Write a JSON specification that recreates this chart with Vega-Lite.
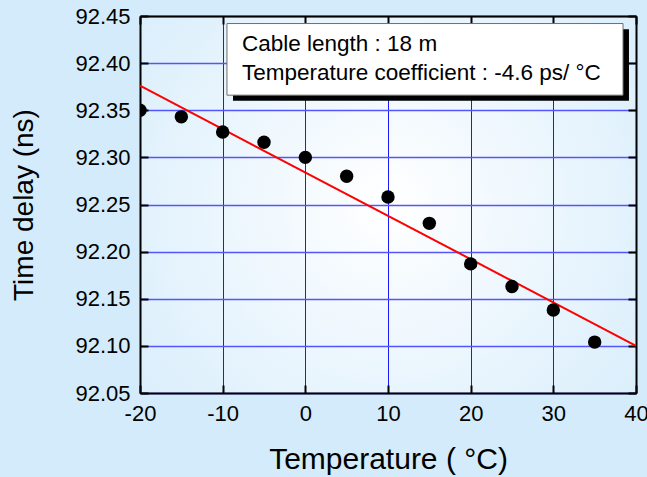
{
  "$schema": "https://vega.github.io/schema/vega-lite/v6.json",
  "width": 496,
  "height": 377,
  "autosize": {"type": "none"},
  "padding": {"left": 140, "top": 16, "right": 11, "bottom": 84},
  "background": "#d3ebfb",
  "view": {
    "stroke": null,
    "fill": {"gradient": "radial", "x1": 0.5, "y1": 0.5, "r1": 0, "x2": 0.5, "y2": 0.5, "r2": 0.75,
      "stops": [{"offset": 0, "color": "#ffffff"}, {"offset": 1, "color": "#d3ebfb"}]}
  },
  "config": {
    "font": "Liberation Sans",
    "axis": {
      "domainColor": "#000000", "domainWidth": 2,
      "tickColor": "#000000", "tickWidth": 2, "tickSize": -8,
      "labelFont": "Liberation Sans", "labelFontSize": 22, "labelColor": "#000000",
      "titleFont": "Liberation Sans", "titleFontWeight": "normal", "titleColor": "#000000"
    }
  },
  "datasets": {
    "points": [
      {"temperature": -20, "delay": 92.350},
      {"temperature": -15, "delay": 92.343},
      {"temperature": -10, "delay": 92.327},
      {"temperature": -5, "delay": 92.316},
      {"temperature": 0, "delay": 92.300},
      {"temperature": 5, "delay": 92.280},
      {"temperature": 10, "delay": 92.258},
      {"temperature": 15, "delay": 92.230},
      {"temperature": 20, "delay": 92.187},
      {"temperature": 25, "delay": 92.163},
      {"temperature": 30, "delay": 92.138},
      {"temperature": 35, "delay": 92.104}
    ],
    "fit": [
      {"temperature": -20, "delay": 92.376},
      {"temperature": 40, "delay": 92.100}
    ],
    "note": [
      {"line": "Cable length : 18 m", "row": 1},
      {"line": "Temperature coefficient : -4.6 ps/ °C", "row": 2}
    ]
  },
  "resolve": {"axis": {"x": "independent", "y": "independent"}},
  "layer": [
    {
      "data": {"name": "fit"},
      "mark": {"type": "line", "color": "#ff0000", "strokeWidth": 2, "clip": true},
      "encoding": {
        "x": {"field": "temperature", "type": "quantitative",
          "scale": {"domain": [-20, 40], "nice": false, "zero": false},
          "axis": {"orient": "bottom", "values": [-20, -10, 0, 10, 20, 30, 40],
            "labelExpr": "'' + datum.value",
            "grid": true, "gridColor": "#1a1aff", "gridWidth": 1,
            "labelPadding": 18, "labelFlush": false,
            "title": "Temperature ( °C)", "titleFontSize": 30, "titlePadding": 20}},
        "y": {"field": "delay", "type": "quantitative",
          "scale": {"domain": [92.05, 92.45], "nice": false, "zero": false},
          "axis": {"orient": "left", "values": [92.05, 92.1, 92.15, 92.2, 92.25, 92.3, 92.35, 92.4, 92.45],
            "format": ".2f", "grid": true, "gridColor": "#5555ff", "gridWidth": 1.3,
            "labelPadding": 18, "labelFlush": false,
            "title": "Time delay (ns)", "titleFontSize": 28, "titlePadding": 36}}
      }
    },
    {
      "data": {"name": "points"},
      "mark": {"type": "circle", "color": "#000000", "opacity": 1, "size": 180, "clip": true},
      "encoding": {
        "x": {"field": "temperature", "type": "quantitative",
          "axis": {"orient": "top", "values": [-20, -10, 0, 10, 20, 30, 40], "labels": false, "title": null, "grid": false}},
        "y": {"field": "delay", "type": "quantitative",
          "axis": {"orient": "right", "values": [92.05, 92.1, 92.15, 92.2, 92.25, 92.3, 92.35, 92.4, 92.45], "labels": false, "title": null, "grid": false}}
      }
    },
    {
      "data": {"values": [{}]},
      "mark": {"type": "rect", "fill": "#000000"},
      "encoding": {
        "x": {"datum": -8.75, "type": "quantitative", "axis": null},
        "x2": {"datum": 39.15},
        "y": {"datum": 92.436, "type": "quantitative", "axis": null},
        "y2": {"datum": 92.360}
      }
    },
    {
      "data": {"values": [{}]},
      "mark": {"type": "rect", "fill": "#ffffff", "stroke": "#6e6e6e", "strokeWidth": 1},
      "encoding": {
        "x": {"datum": -9.48, "type": "quantitative", "axis": null},
        "x2": {"datum": 38.43},
        "y": {"datum": 92.442, "type": "quantitative", "axis": null},
        "y2": {"datum": 92.366}
      }
    },
    {
      "data": {"name": "note"},
      "transform": [{"filter": "datum.row == 1"}],
      "mark": {"type": "text", "align": "left", "baseline": "alphabetic", "fontSize": 22.5, "color": "#000000", "font": "Liberation Sans"},
      "encoding": {
        "text": {"field": "line"},
        "x": {"datum": -7.66, "type": "quantitative", "axis": null},
        "y": {"datum": 92.413, "type": "quantitative", "axis": null}
      }
    },
    {
      "data": {"name": "note"},
      "transform": [{"filter": "datum.row == 2"}],
      "mark": {"type": "text", "align": "left", "baseline": "alphabetic", "fontSize": 22.5, "color": "#000000", "font": "Liberation Sans"},
      "encoding": {
        "text": {"field": "line"},
        "x": {"datum": -7.66, "type": "quantitative", "axis": null},
        "y": {"datum": 92.382, "type": "quantitative", "axis": null}
      }
    }
  ]
}
